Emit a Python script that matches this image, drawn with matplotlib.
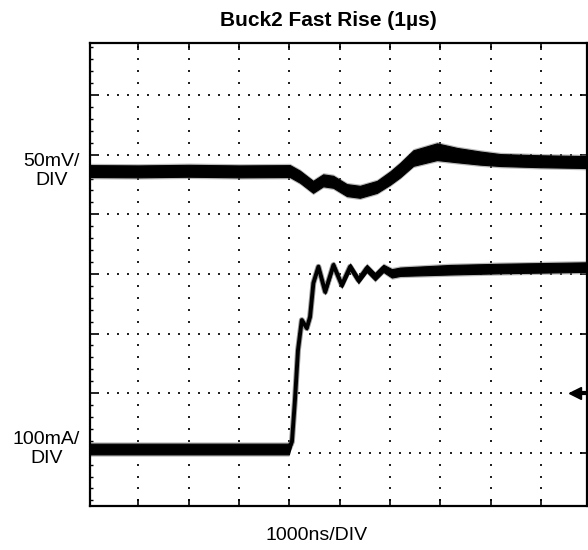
import numpy as np
import matplotlib.pyplot as plt
from matplotlib.ticker import MultipleLocator, AutoMinorLocator

plt.rcParams['font.family'] = ['Liberation Sans', 'DejaVu Sans']

# screen is in divisions: x = 1000 ns/div, y = 1 div per grid line
# output voltage trace (50mV/DIV)
t_v = [0.04, 1.0, 2.0, 3.0, 4.01, 4.21, 4.47, 4.67, 4.87, 5.14, 5.40, 5.74,
       6.00, 6.20, 6.46, 6.93, 7.33, 7.79, 8.19, 8.98, 9.91]
v = [5.725, 5.72, 5.73, 5.72, 5.725, 5.63, 5.46, 5.57, 5.545, 5.406, 5.377, 5.46,
     5.607, 5.741, 5.943, 6.05, 5.993, 5.943, 5.91, 5.89, 5.876]
v_band = [0.10, 0.10, 0.10, 0.10, 0.10, 0.10, 0.10, 0.10, 0.10, 0.10, 0.10, 0.10,
          0.11, 0.12, 0.13, 0.14, 0.12, 0.11, 0.10, 0.10, 0.10]

# load current trace (100mA/DIV)
t_i = [0.04, 3.99, 4.05, 4.11, 4.17, 4.246, 4.345, 4.41, 4.476, 4.576, 4.71,
       4.874, 5.04, 5.205, 5.37, 5.537, 5.70, 5.867, 6.034, 6.20, 7.19, 8.18, 9.91]
i_load = [1.062, 1.062, 1.184, 1.884, 2.72, 3.225, 3.09, 3.28, 3.846, 4.12, 3.70,
          4.148, 3.813, 4.12, 3.897, 4.093, 3.952, 4.093, 4.009, 4.036, 4.07, 4.09, 4.114]
i_band = [0.09, 0.09, 0.01, 0.0, 0.0, 0.02, 0.02, 0.02, 0.01, 0.03, 0.03,
          0.04, 0.04, 0.05, 0.05, 0.06, 0.06, 0.06, 0.07, 0.07, 0.08, 0.08, 0.08]

gnd_level = 2.0

fig = plt.figure(figsize=(5.88, 5.5), dpi=100)
ax = fig.add_axes([0.1531, 0.08, 0.8452, 0.8425])
ax.set_xlim(0.04, 9.91)
ax.set_ylim(0.106, 7.88)

# dotted graticule: dots at every minor step along each major line
xmaj = np.arange(1, 10)
ymaj = np.arange(1, 8)
xmin = np.arange(0, 10.01, 0.2)
ymin = np.arange(0, 8.01, 0.2)
gx, gy = np.meshgrid(xmin, ymaj)
ax.scatter(gx.ravel(), gy.ravel(), s=1.6, marker='s', color='#222222', lw=0, zorder=1)
gx, gy = np.meshgrid(xmaj, ymin)
ax.scatter(gx.ravel(), gy.ravel(), s=1.6, marker='s', color='#222222', lw=0, zorder=1)

for t, y, b in [(t_v, v, v_band), (t_i, i_load, i_band)]:
    t = np.array(t); y = np.array(y); b = np.array(b)
    # soft grey fringe round the noise band
    ax.fill_between(t, y - b - 0.03, y + b + 0.03, color='#777777', alpha=0.5, lw=0, zorder=2)
    ax.fill_between(t, y - b, y + b, color='black', lw=0.8, zorder=3)
    ax.plot(t, y, color='#555555', lw=4.2, alpha=0.6, solid_joinstyle='round', zorder=2.5)
    ax.plot(t, y, color='black', lw=2.8, solid_joinstyle='round', zorder=4)

# ground marker at right edge
ax.plot([9.68, 9.9], [gnd_level, gnd_level], color='black', lw=3, zorder=5)
ax.plot([9.68], [gnd_level], marker='<', ms=8, color='black', zorder=5)

ax.xaxis.set_major_locator(MultipleLocator(1))
ax.yaxis.set_major_locator(MultipleLocator(1))
ax.yaxis.set_minor_locator(AutoMinorLocator(5))
ax.tick_params(which='major', direction='in', top=True, right=True, length=5, width=1.2,
               labelleft=False, labelbottom=False)
ax.tick_params(which='minor', direction='in', left=True, right=False, length=2.5, width=1)
for s in ax.spines.values():
    s.set_linewidth(1.6)

tr = ax.get_yaxis_transform()
ax.text(-0.02, v[0], '50mV/\nDIV', transform=tr, ha='right', va='center',
        multialignment='center', fontsize=14, linespacing=1.2)
ax.text(-0.02, i_load[0], '100mA/\nDIV', transform=tr, ha='right', va='center',
        multialignment='center', fontsize=14, linespacing=1.2)

fig.text(328/588, 1 - 20/550, 'Buck2 Fast Rise (1µs)', ha='center', va='center',
         fontsize=15, fontweight='bold')
fig.text(316.7/588, 1 - 535/550, '1000ns/DIV', ha='center', va='center', fontsize=14)

fig.savefig('out.png', dpi=100)
